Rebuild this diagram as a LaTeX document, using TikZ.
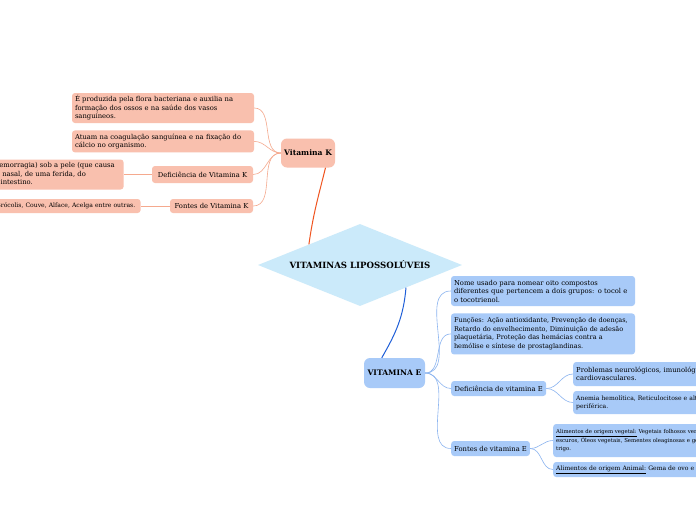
\documentclass[tikz,border=0pt]{standalone}
\usepackage{fontspec}
\setmainfont{DejaVu Serif}
\usetikzlibrary{positioning, shapes.geometric, calc}
\usepackage{xcolor}
\definecolor{kfill}{HTML}{F9C0AE}
\definecolor{kbranch}{HTML}{F5A98E}
\definecolor{kmain}{HTML}{F0541F}
\definecolor{hubfill}{HTML}{CBEAFA}
\definecolor{efill}{HTML}{A8CAF8}
\definecolor{ebranch}{HTML}{8CB5F0}
\definecolor{emain}{HTML}{1F5FD8}
\newcommand{\leaffont}{\fontsize{6.8}{8.5}\selectfont}
\newcommand{\denseleaf}{\fontsize{6.55}{8.5}\selectfont}
\newcommand{\smallleaf}{\fontsize{6.1}{7.8}\selectfont}
\newcommand{\tinyleaf}{\fontsize{5.4}{7.8}\selectfont}
\newcommand{\topicfont}{\fontsize{7.6}{9}\selectfont\bfseries}

\begin{document}
\begin{tikzpicture}[
  x=1pt, y=-1pt,
  leaf/.style   = {rectangle, rounded corners=3pt, align=left,
                   inner xsep=3pt, inner ysep=1pt, font=\leaffont},
  kleaf/.style  = {leaf, fill=kfill},
  eleaf/.style  = {leaf, fill=efill},
  topic/.style  = {rectangle, rounded corners=6pt, inner sep=2pt,
                   font=\topicfont},
  hub/.style    = {diamond, fill=hubfill, inner sep=0pt, aspect=2.5,
                   minimum width=204pt, minimum height=82pt,
                   font=\fontsize{8.6}{10}\selectfont\bfseries},
  kbr/.style    = {draw=kbranch, line width=0.6pt},
  ebr/.style    = {draw=ebranch, line width=0.6pt},
  kline/.style  = {draw=kmain, line width=1pt},
  eline/.style  = {draw=emain, line width=1pt}
]
\useasboundingbox (0,0) rectangle (696,520);
\clip (0,0) rectangle (696,520);
\fill[white] (0,0) rectangle (696,520);

% centro
\node[hub] (hub) at (360,265) {VITAMINAS LIPOSSOLÚVEIS};

% vitamina K
\node[topic, fill=kfill, minimum width=54pt, minimum height=29pt] (vitk) at (308,153) {Vitamina K};
\node[kleaf, text width=176pt, minimum height=30pt] (k-origem) at (163,108)
  {É produzida pela flora bacteriana e auxilia na\\ formação dos ossos e na saúde dos vasos\\ sanguíneos.};
\node[kleaf, text width=176pt, minimum height=22pt, below=7pt of k-origem] (k-funcao)
  {Atuam na coagulação sanguínea e na fixação do\\ cálcio no organismo.};
\node[kleaf, minimum width=101pt, minimum height=17pt] (k-defic) at (202.5,174.5) {Deficiência de Vitamina K};
\node[kleaf, text width=177pt, minimum height=30pt, left=28pt of k-defic] (k-defic-txt)
  {Sangramento (hemorragia) sob a pele (que causa\\ manchas roxas), nasal, de uma ferida, do\\ estômago ou do intestino.};
\node[kleaf, minimum width=83pt, minimum height=14pt] (k-fontes) at (211.5,206) {Fontes de Vitamina K};
\node[kleaf, font=\smallleaf, text width=175pt, minimum height=14pt, left=29pt of k-fontes] (k-fontes-txt)
  {Espinafre, Brócolis, Couve, Alface, Acelga entre outras.};

\draw[kline] ($(hub.north)!0.5!(hub.west)$) to[out=82, in=-104] (vitk.-40);
\foreach \k in {k-origem, k-funcao, k-defic, k-fontes}
  \draw[kbr] (\k.east) to[out=0, in=180] (vitk.west);
\draw[kbr] (k-defic.west) -- (k-defic-txt.east);
\draw[kbr] (k-fontes.west) -- (k-fontes-txt.east);

% vitamina E
\node[topic, fill=efill, minimum width=61pt, minimum height=30pt] (vite) at (394.5,373) {VITAMINA E};
\node[eleaf, text width=178pt, minimum height=30pt] (e-nome) at (543,291)
  {Nome usado para nomear oito compostos\\ diferentes que pertencem a dois grupos: o tocol e\\ o tocotrienol.};
\node[eleaf, font=\denseleaf, text width=178pt, minimum height=41pt, below=7pt of e-nome] (e-funcoes)
  {Funções: Ação antioxidante, Prevenção de doenças,\\ Retardo do envelhecimento, Diminuição de adesão\\ plaquetária, Proteção das hemácias contra a\\ hemólise e síntese de prostaglandinas.};
\node[eleaf, minimum width=95pt, minimum height=15pt, anchor=west] (e-defic) at (451,388.5) {Deficiência de vitamina E};
\node[eleaf, text width=180pt, minimum height=24pt, anchor=west] (e-neuro) at (573,374)
  {Problemas neurológicos, imunológicos e\\ cardiovasculares.};
\node[eleaf, font=\smallleaf, text width=180pt, minimum height=23pt, anchor=west] (e-anemia) at (573,402.5)
  {Anemia hemolítica, Reticulocitose e alteração\\ periférica.};
\node[eleaf, minimum width=77pt, minimum height=15pt, anchor=west] (e-fontes) at (451,448.5) {Fontes de vitamina E};
\node[eleaf, font=\tinyleaf, text width=200pt, minimum height=33pt, anchor=west] (e-veg) at (553,440.5)
  {\underline{Alimentos de origem vegetal:} Vegetais folhosos verde-\\ escuros, Óleos vegetais, Sementes oleaginosas e gérmen de\\ trigo.};
\node[eleaf, font=\smallleaf, text width=190pt, minimum height=15pt, anchor=west] (e-animal) at (553,469.5)
  {\underline{Alimentos de origem Animal:} Gema de ovo e fígado.};

\draw[eline] ($(hub.south)!0.45!(hub.east)$) to[out=-95, in=60] (vite.130);
\foreach \e in {e-nome, e-funcoes, e-defic, e-fontes}
  \draw[ebr] (vite.east) to[out=0, in=180] (\e.west);
\foreach \e in {e-neuro, e-anemia}
  \draw[ebr] (e-defic.east) to[out=0, in=180] (\e.west);
\foreach \e in {e-veg, e-animal}
  \draw[ebr] (e-fontes.east) to[out=0, in=180] (\e.west);
\end{tikzpicture}
\end{document}
